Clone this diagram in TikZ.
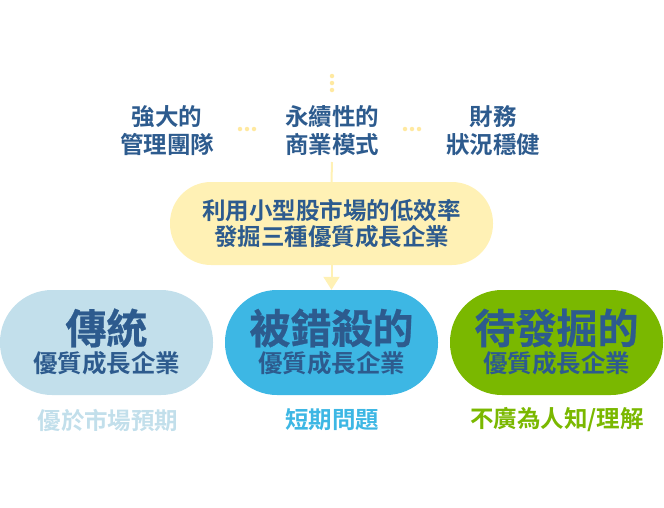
\documentclass[tikz,border=0pt]{standalone}
\usepackage{fontspec}
\setmainfont{Noto Sans CJK TC}[BoldFont={* Bold}]
\newfontfamily\heavycjk{Noto Sans CJK TC Bold}[FakeBold=0.6]
\usetikzlibrary{arrows.meta}
\begin{document}
\begin{tikzpicture}[x=1pt, y=-1pt,
  pill/.style={rectangle, rounded corners=52pt, minimum width=213pt, minimum height=105pt, inner sep=0pt},
  hubpill/.style={rectangle, rounded corners=41pt, minimum width=323pt, minimum height=83pt, inner sep=0pt, fill=hubyel},
  bigtitle/.style={inner sep=0pt, text=inkblue, font=\heavycjk\fontsize{41}{44}\selectfont},
  subtitle/.style={inner sep=0pt, text=inkblue, font=\bfseries\fontsize{24.5}{26}\selectfont},
  caption/.style={inner sep=0pt, font=\bfseries\fontsize{23.5}{26}\selectfont},
  toplabel/.style={inner sep=0pt, align=center, text=inkblue, font=\bfseries\fontsize{23.5}{28}\selectfont},
  dot/.style={circle, fill=dotyel, inner sep=0pt, minimum size=4.5pt}]
\definecolor{inkblue}{HTML}{2D5B8E}
\definecolor{hubyel}{HTML}{FFF1B5}
\definecolor{dotyel}{HTML}{FFE9A0}
\definecolor{tradcol}{HTML}{C2DFEB}
\definecolor{undercol}{HTML}{3DB7E4}
\definecolor{hiddencol}{HTML}{7AB800}
\useasboundingbox (0,0) rectangle (664,507);
% vertical dots on top
\node[dot] (dotA) at (332,76) {};
\node[dot] (dotB) at (332,83) {};
\node[dot] (dotC) at (332,90) {};
% three qualities
\node[toplabel] (team) at (167,131) {強大的\\管理團隊};
\node[toplabel] (model) at (332,131) {永續性的\\商業模式};
\node[toplabel] (finance) at (493,131) {財務\\狀況穩健};
\node[dot] (dotD) at (240,129) {};
\node[dot] (dotE) at (247,129) {};
\node[dot] (dotF) at (254,129) {};
\node[dot] (dotG) at (405,129) {};
\node[dot] (dotH) at (412,129) {};
\node[dot] (dotI) at (419,129) {};
% hub
\node[hubpill, align=center, text=inkblue, font=\bfseries\fontsize{23.5}{26}\selectfont] (hub) at (331.5,223.5) {利用小型股市場的低效率\\發掘三種優質成長企業};
\coordinate (modelfoot) at (332,162);
\draw[hubyel, line width=2pt] (modelfoot) -- (hub.north);
% three kinds
\node[pill, fill=tradcol] (trad) at (106.5,342.5) {};
\node[pill, fill=undercol] (under) at (331.5,342.5) {};
\node[pill, fill=hiddencol] (hidden) at (556.5,342.5) {};
\draw[hubyel, line width=2pt, -{Triangle[width=16pt, length=13pt]}] (hub.south) -- (under.north);
\node[bigtitle] (tradT) at (106.5,328) {傳統};
\node[subtitle] (tradS) at (106.5,363) {優質成長企業};
\node[bigtitle] (underT) at (331.5,328) {被錯殺的};
\node[subtitle] (underS) at (331.5,363) {優質成長企業};
\node[bigtitle] (hiddenT) at (556.5,328) {待發掘的};
\node[subtitle] (hiddenS) at (556.5,363) {優質成長企業};
\node[caption, text=tradcol] (tradC) at (108,420) {優於市場預期};
\node[caption, text=undercol] (underC) at (332,420) {短期問題};
\node[caption, text=hiddencol] (hiddenC) at (557,420) {不廣為人知/理解};
\end{tikzpicture}
\end{document}
